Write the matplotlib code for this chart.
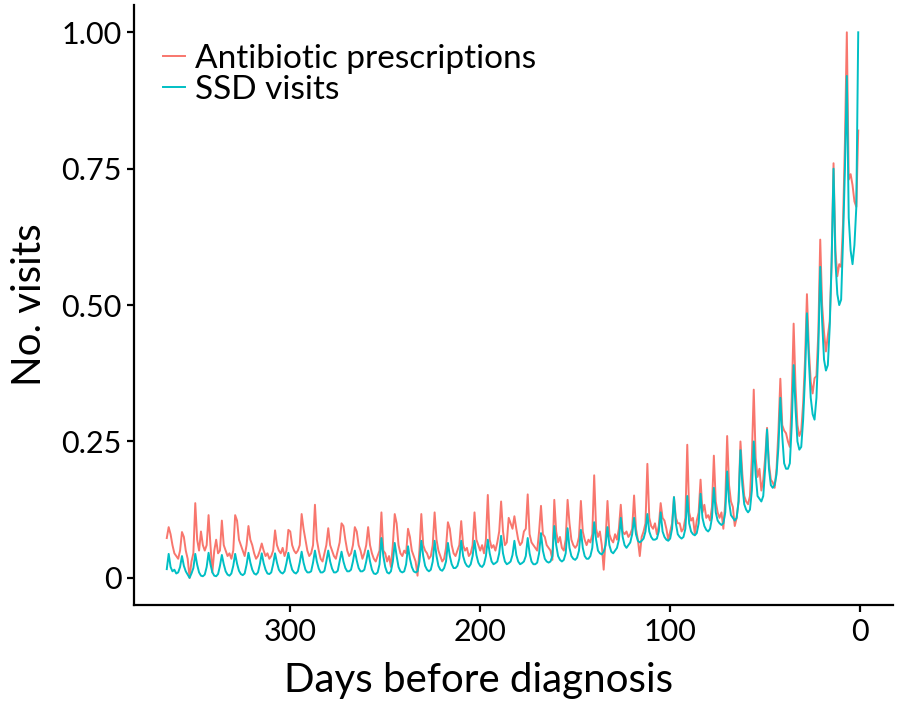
import numpy as np
import matplotlib.pyplot as plt

# days before diagnosis, oldest first (365 ... 1)
days = list(range(365, 0, -1))

# antibiotic prescriptions, one row per week (peak day first)
antibiotic = [
    0.073,
    0.093, 0.080, 0.060, 0.045, 0.040, 0.035, 0.050,   # 364-358
    0.084, 0.075, 0.050, 0.035, 0.000, 0.030, 0.045,   # 357-351
    0.137, 0.070, 0.050, 0.085, 0.060, 0.050, 0.060,   # 350-344
    0.115, 0.060, 0.010, 0.050, 0.070, 0.045, 0.050,   # 343-337
    0.105, 0.060, 0.050, 0.040, 0.045, 0.035, 0.050,   # 336-330
    0.115, 0.105, 0.070, 0.060, 0.050, 0.040, 0.060,   # 329-323
    0.095, 0.070, 0.060, 0.045, 0.035, 0.040, 0.050,   # 322-316
    0.063, 0.050, 0.040, 0.045, 0.035, 0.040, 0.050,   # 315-309
    0.087, 0.060, 0.050, 0.045, 0.055, 0.040, 0.050,   # 308-302
    0.088, 0.085, 0.060, 0.050, 0.045, 0.050, 0.060,   # 301-295
    0.117, 0.090, 0.070, 0.050, 0.040, 0.045, 0.060,   # 294-288
    0.134, 0.070, 0.050, 0.035, 0.030, 0.045, 0.060,   # 287-281
    0.091, 0.060, 0.050, 0.040, 0.035, 0.050, 0.065,   # 280-274
    0.100, 0.095, 0.070, 0.050, 0.040, 0.045, 0.060,   # 273-267
    0.093, 0.085, 0.060, 0.050, 0.035, 0.045, 0.060,   # 266-260
    0.093, 0.060, 0.045, 0.035, 0.030, 0.040, 0.050,   # 259-253
    0.120, 0.050, 0.045, 0.030, 0.040, 0.020, 0.060,   # 252-246
    0.117, 0.100, 0.060, 0.045, 0.040, 0.050, 0.045,   # 245-239
    0.090, 0.075, 0.050, 0.040, 0.030, 0.004, 0.050,   # 238-232
    0.117, 0.060, 0.050, 0.045, 0.035, 0.040, 0.060,   # 231-225
    0.120, 0.070, 0.050, 0.040, 0.030, 0.035, 0.055,   # 224-218
    0.102, 0.090, 0.060, 0.045, 0.040, 0.050, 0.060,   # 217-211
    0.104, 0.060, 0.050, 0.055, 0.040, 0.045, 0.060,   # 210-204
    0.120, 0.070, 0.060, 0.050, 0.060, 0.045, 0.070,   # 203-197
    0.152, 0.070, 0.055, 0.060, 0.050, 0.065, 0.085,   # 196-190
    0.140, 0.085, 0.060, 0.065, 0.110, 0.100, 0.090,   # 189-183
    0.113, 0.090, 0.070, 0.060, 0.065, 0.085, 0.090,   # 182-176
    0.153, 0.080, 0.065, 0.060, 0.055, 0.050, 0.085,   # 175-169
    0.132, 0.080, 0.075, 0.060, 0.055, 0.050, 0.033,   # 168-162
    0.143, 0.085, 0.065, 0.075, 0.055, 0.050, 0.070,   # 161-155
    0.143, 0.100, 0.070, 0.060, 0.055, 0.060, 0.075,   # 154-148
    0.141, 0.085, 0.070, 0.060, 0.070, 0.065, 0.080,   # 147-141
    0.188, 0.090, 0.075, 0.085, 0.060, 0.015, 0.070,   # 140-134
    0.141, 0.080, 0.070, 0.065, 0.080, 0.070, 0.090,   # 133-127
    0.134, 0.085, 0.080, 0.085, 0.075, 0.080, 0.090,   # 126-120
    0.151, 0.090, 0.070, 0.040, 0.075, 0.085, 0.100,   # 119-113
    0.209, 0.110, 0.095, 0.090, 0.100, 0.080, 0.095,   # 112-106
    0.137, 0.110, 0.105, 0.090, 0.070, 0.085, 0.100,   # 105-99
    0.148, 0.110, 0.100, 0.100, 0.085, 0.090, 0.110,   # 98-92
    0.244, 0.120, 0.105, 0.110, 0.080, 0.105, 0.120,   # 91-85
    0.180, 0.120, 0.134, 0.110, 0.115, 0.105, 0.130,   # 84-78
    0.224, 0.140, 0.120, 0.110, 0.120, 0.090, 0.140,   # 77-71
    0.260, 0.170, 0.140, 0.130, 0.095, 0.110, 0.140,   # 70-64
    0.250, 0.190, 0.150, 0.140, 0.135, 0.150, 0.220,   # 63-57
    0.345, 0.220, 0.185, 0.200, 0.160, 0.180, 0.220,   # 56-50
    0.275, 0.210, 0.180, 0.175, 0.165, 0.200, 0.270,   # 49-43
    0.365, 0.280, 0.270, 0.265, 0.250, 0.240, 0.330,   # 42-36
    0.466, 0.350, 0.280, 0.260, 0.270, 0.320, 0.400,   # 35-29
    0.520, 0.420, 0.360, 0.338, 0.366, 0.370, 0.450,   # 28-22
    0.620, 0.500, 0.450, 0.415, 0.444, 0.470, 0.580,   # 21-15
    0.760, 0.600, 0.553, 0.575, 0.570, 0.650, 0.800,   # 14-8
    1.000, 0.730, 0.740, 0.720, 0.690, 0.680, 0.820,   # 7-1
]

# SSD visits, same layout
ssd = [
    0.016,
    0.044, 0.020, 0.012, 0.015, 0.008, 0.010, 0.020,   # 364-358
    0.040, 0.022, 0.012, 0.006, 0.000, 0.008, 0.018,   # 357-351
    0.044, 0.024, 0.010, 0.004, 0.003, 0.006, 0.020,   # 350-344
    0.046, 0.025, 0.010, 0.004, 0.003, 0.007, 0.022,   # 343-337
    0.042, 0.025, 0.012, 0.006, 0.004, 0.008, 0.022,   # 336-330
    0.044, 0.026, 0.013, 0.007, 0.005, 0.008, 0.024,   # 329-323
    0.046, 0.028, 0.015, 0.008, 0.006, 0.010, 0.025,   # 322-316
    0.045, 0.027, 0.015, 0.008, 0.007, 0.010, 0.025,   # 315-309
    0.045, 0.028, 0.015, 0.010, 0.008, 0.012, 0.027,   # 308-302
    0.046, 0.028, 0.015, 0.010, 0.008, 0.012, 0.028,   # 301-295
    0.048, 0.028, 0.015, 0.010, 0.010, 0.012, 0.028,   # 294-288
    0.050, 0.030, 0.017, 0.010, 0.010, 0.013, 0.030,   # 287-281
    0.050, 0.030, 0.017, 0.010, 0.010, 0.013, 0.030,   # 280-274
    0.048, 0.030, 0.018, 0.012, 0.012, 0.015, 0.030,   # 273-267
    0.050, 0.032, 0.018, 0.012, 0.012, 0.015, 0.030,   # 266-260
    0.050, 0.030, 0.015, 0.008, 0.007, 0.010, 0.025,   # 259-253
    0.073, 0.040, 0.020, 0.010, 0.008, 0.012, 0.030,   # 252-246
    0.064, 0.040, 0.020, 0.012, 0.010, 0.012, 0.025,   # 245-239
    0.058, 0.035, 0.020, 0.012, 0.010, 0.012, 0.030,   # 238-232
    0.068, 0.040, 0.022, 0.015, 0.012, 0.015, 0.030,   # 231-225
    0.068, 0.040, 0.022, 0.015, 0.013, 0.018, 0.030,   # 224-218
    0.064, 0.040, 0.025, 0.018, 0.018, 0.022, 0.035,   # 217-211
    0.068, 0.040, 0.028, 0.022, 0.020, 0.025, 0.040,   # 210-204
    0.068, 0.042, 0.028, 0.022, 0.020, 0.025, 0.040,   # 203-197
    0.070, 0.045, 0.030, 0.025, 0.027, 0.030, 0.045,   # 196-190
    0.077, 0.045, 0.030, 0.025, 0.027, 0.030, 0.042,   # 189-183
    0.068, 0.042, 0.030, 0.025, 0.027, 0.030, 0.040,   # 182-176
    0.073, 0.045, 0.030, 0.025, 0.025, 0.028, 0.045,   # 175-169
    0.082, 0.050, 0.035, 0.030, 0.028, 0.030, 0.040,   # 168-162
    0.095, 0.060, 0.040, 0.033, 0.030, 0.033, 0.045,   # 161-155
    0.091, 0.055, 0.040, 0.035, 0.033, 0.037, 0.050,   # 154-148
    0.088, 0.055, 0.040, 0.035, 0.035, 0.040, 0.055,   # 147-141
    0.102, 0.070, 0.050, 0.045, 0.043, 0.048, 0.060,   # 140-134
    0.093, 0.060, 0.048, 0.045, 0.050, 0.055, 0.070,   # 133-127
    0.110, 0.075, 0.060, 0.055, 0.060, 0.065, 0.080,   # 126-120
    0.110, 0.080, 0.068, 0.065, 0.068, 0.072, 0.085,   # 119-113
    0.117, 0.085, 0.075, 0.070, 0.070, 0.072, 0.085,   # 112-106
    0.120, 0.085, 0.075, 0.070, 0.068, 0.072, 0.090,   # 105-99
    0.148, 0.100, 0.080, 0.075, 0.072, 0.075, 0.090,   # 98-92
    0.150, 0.100, 0.085, 0.080, 0.078, 0.082, 0.100,   # 91-85
    0.154, 0.110, 0.095, 0.088, 0.085, 0.090, 0.110,   # 84-78
    0.165, 0.120, 0.105, 0.100, 0.097, 0.100, 0.120,   # 77-71
    0.195, 0.140, 0.115, 0.110, 0.105, 0.110, 0.140,   # 70-64
    0.234, 0.170, 0.135, 0.125, 0.120, 0.125, 0.160,   # 63-57
    0.250, 0.190, 0.150, 0.145, 0.140, 0.150, 0.200,   # 56-50
    0.272, 0.200, 0.170, 0.165, 0.170, 0.190, 0.240,   # 49-43
    0.330, 0.260, 0.210, 0.200, 0.200, 0.210, 0.280,   # 42-36
    0.390, 0.310, 0.250, 0.235, 0.240, 0.290, 0.370,   # 35-29
    0.485, 0.400, 0.330, 0.300, 0.290, 0.330, 0.420,   # 28-22
    0.570, 0.470, 0.400, 0.380, 0.390, 0.460, 0.580,   # 21-15
    0.750, 0.580, 0.520, 0.500, 0.510, 0.620, 0.750,   # 14-8
    0.920, 0.660, 0.600, 0.575, 0.610, 0.680, 1.000,   # 7-1
]

red = '#F8766D'
teal = '#00BFC4'

plt.rcParams['font.family'] = ['Lato', 'DejaVu Sans']

fig = plt.figure(figsize=(9, 7.17), dpi=100)
ax = fig.add_axes([0.149, 0.156, 0.843, 0.837])

ax.plot(days, antibiotic, color=red, lw=1.4, label='Antibiotic prescriptions')
ax.plot(days, ssd, color=teal, lw=1.4, label='SSD visits')

ax.set_xlim(382.2, -17.2)
ax.set_ylim(-0.05, 1.05)
ax.set_xticks([300, 200, 100, 0])
ax.set_yticks([0, 0.25, 0.5, 0.75, 1.0])
ax.set_yticklabels(['0', '0.25', '0.50', '0.75', '1.00'])

for side in ['top', 'right']:
    ax.spines[side].set_visible(False)
for side in ['left', 'bottom']:
    ax.spines[side].set_linewidth(1.6)
ax.tick_params(direction='out', length=5, width=1.6, labelsize=22, colors='black', pad=4)

ax.set_xlabel('Days before diagnosis', fontsize=29)
ax.set_ylabel('No. visits', fontsize=29)
ax.xaxis.set_label_coords(0.4545, -0.095)
ax.yaxis.set_label_coords(-0.113, 0.5)

leg = ax.legend(loc='upper left', bbox_to_anchor=(0.038, 0.935), frameon=False,
                fontsize=24, handlelength=0.67, handletextpad=0.3, labelspacing=0.02,
                borderaxespad=0, borderpad=0)

fig.savefig('out.png', dpi=100)
